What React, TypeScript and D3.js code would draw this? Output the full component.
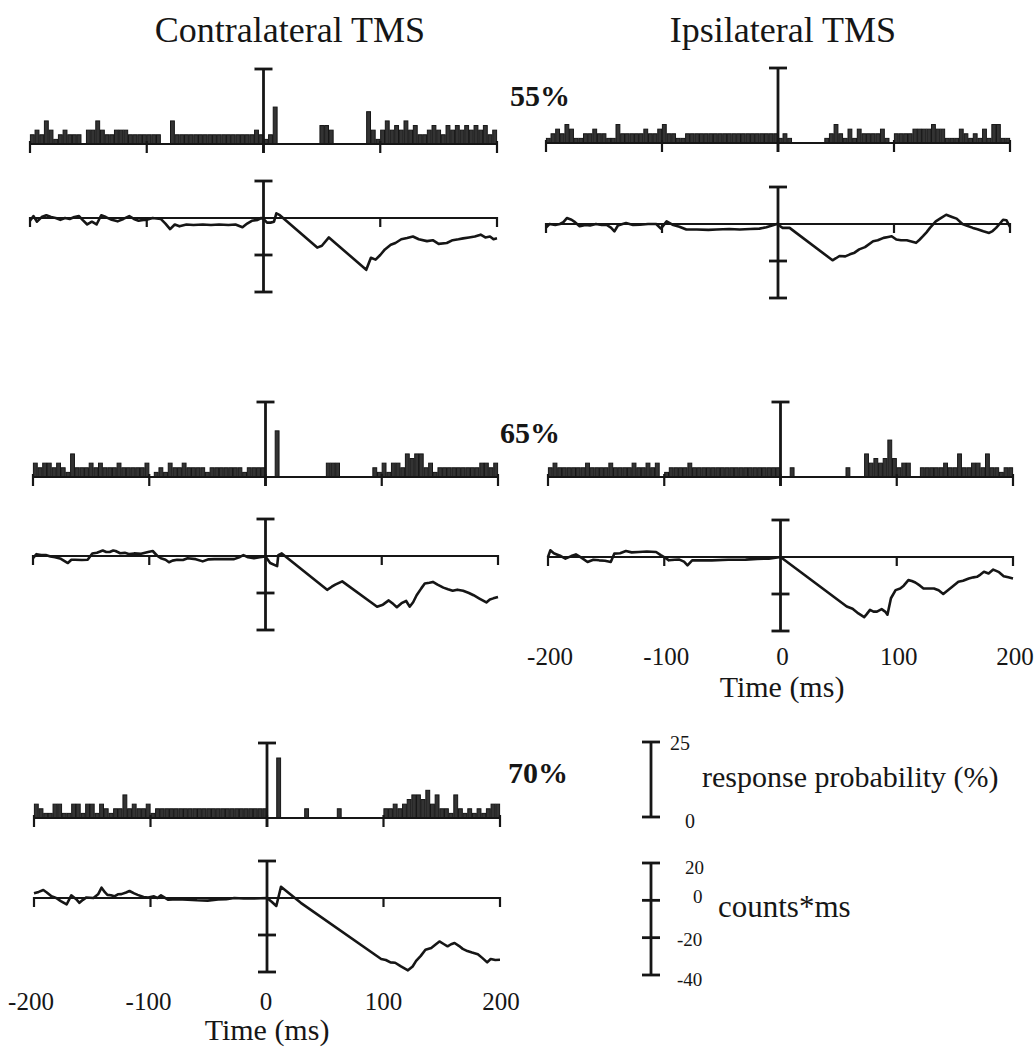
import React from "react";
import * as d3 from "d3";

// ---------- DATA ----------
const timeTicks = [-200, -100, 0, 100, 200];
const binWidthMs = 4;
const trials = 65;
const histMaxPct = 25;
const cusumDomain = [-40, 20];

const contra55Hist = [2,3,2,5,3,1,2,3,2,2,2,0,3,3,5,3,2,2,3,3,3,2,2,2,2,2,2,2,0,0,5,2,2,2,2,2,2,2,2,2,2,2,2,2,2,2,2,2,3,2,1,2,8,0,0,0,0,0,0,0,0,0,4,4,3,0,0,0,0,0,0,0,7,3,1,3,5,3,4,3,5,3,4,2,2,3,4,3,2,4,3,4,3,4,3,4,3,4,2,3];
const contra65Hist = [3,2,3,3,2,3,2,1,5,2,2,2,3,2,3,2,2,2,3,2,2,2,2,2,3,0,1,2,1,3,2,2,3,2,2,2,2,1,2,2,2,2,2,2,2,1,2,2,2,2,0,0,10,0,0,0,0,0,0,0,0,0,0,3,3,3,0,0,0,0,0,0,0,2,1,3,1,3,3,2,5,4,5,5,2,3,1,2,2,2,2,2,2,2,2,2,3,3,2,3];
const contra70Hist = [3,2,1,1,3,3,1,1,3,3,1,3,3,1,3,2,1,2,2,5,2,3,2,2,3,1,2,2,2,2,2,2,2,2,2,2,2,2,2,2,2,2,2,2,2,2,2,2,2,2,0,0,13,0,0,0,0,0,2,0,0,0,0,0,0,2,0,0,0,0,0,0,0,0,0,2,2,3,2,3,4,5,5,4,6,3,5,2,2,1,5,2,1,2,1,2,1,2,3,3];
const ipsi55Hist = [1,2,3,2,4,3,1,1,2,2,3,2,2,1,1,4,2,2,2,2,2,3,2,2,3,4,2,2,1,1,2,2,2,2,2,2,2,2,2,2,2,2,2,2,2,2,2,2,2,2,1,2,1,0,0,0,0,0,0,0,1,2,4,2,1,3,1,3,2,2,2,2,3,1,0,2,2,2,2,3,3,3,3,4,3,3,1,1,1,3,2,1,2,1,3,1,4,4,1,1];
const ipsi65Hist = [2,3,2,2,2,2,2,2,3,2,2,2,2,3,2,2,2,2,3,2,2,3,2,3,0,1,2,2,2,2,3,2,2,2,2,2,2,2,2,2,2,2,2,2,2,2,2,2,2,2,0,0,2,0,0,0,0,0,0,0,0,0,0,0,2,0,0,0,5,3,4,3,4,8,4,2,3,3,0,0,2,2,2,2,2,3,2,2,5,2,2,3,3,2,5,2,2,1,2,2];

const contra55Cusum = [[-200,-1.5],[-197,1],[-194,-2],[-190,0.5],[-186,1.5],[-182,0.5],[-178,0],[-174,-1],[-170,0],[-166,-0.5],[-162,0.5],[-158,1],[-155,-1],[-151,-3.5],[-147,-2],[-143,-3.5],[-139,1.5],[-135,0.5],[-130,-1],[-125,-1.8],[-120,-0.5],[-115,1],[-111,-0.5],[-107,-1.5],[-103,-1],[-100,-1],[-95,0],[-88,-0.5],[-84,-3],[-80,-6],[-76,-3.5],[-72,-4.5],[-66,-3.5],[-60,-3.8],[-52,-3.5],[-45,-3.8],[-38,-3.5],[-30,-3.8],[-24,-3.5],[-18,-5],[-14,-3],[-10,-1.5],[-5,-1],[-2,0],[0,-0.5],[3,-2.5],[6,-2.5],[9,-2],[11,2.5],[14,1.5],[46,-16],[50,-15],[56,-10.5],[88,-28],[92,-21.5],[96,-22.5],[100,-20],[104,-17],[109,-14.5],[113,-13.5],[118,-11.5],[123,-10.8],[128,-10],[133,-11.5],[140,-12.5],[145,-12],[150,-14],[157,-13.5],[162,-12],[167,-11.5],[171,-11],[176,-10.5],[181,-10],[186,-9],[190,-10.5],[194,-10],[197,-11.5],[200,-11]];
const ipsi55Cusum = [[-200,-2],[-197,0],[-192,-0.5],[-188,0],[-185,1],[-182,3.2],[-178,2.3],[-175,1],[-171,-1.2],[-166,-0.5],[-162,-0.8],[-157,0],[-152,-0.5],[-148,-0.4],[-144,-2],[-141,-4],[-138,-0.8],[-134,0],[-131,0.5],[-125,-0.5],[-119,-0.4],[-112,0],[-105,0],[-101,-2.5],[-96,1.4],[-91,-0.4],[-85,-1.5],[-79,-3],[-70,-3],[-60,-3.2],[-53,-3],[-42,-2.7],[-33,-3],[-24,-2.7],[-16,-2.5],[-10,-1.8],[-1,0],[4,-2.1],[10,-2.1],[47,-19.6],[50,-18.5],[53,-17.3],[58,-17.5],[62,-16.4],[66,-15.5],[70,-13.7],[75,-12.5],[82,-9.3],[86,-8.8],[91,-7.5],[95,-7],[98,-6.6],[102,-8.4],[106,-8.8],[111,-8.8],[115,-9.5],[119,-10.2],[122,-8.5],[125,-6.6],[128,-4.5],[131,-2.1],[136,1.4],[140,3],[145,5],[150,3.8],[154,2.9],[159,0],[163,-1],[168,-2.1],[172,-2.8],[177,-3.9],[182,-4.8],[185,-3.8],[188,-2.1],[191,0],[194,2.3],[197,2],[200,-1.5]];
const contra65Cusum = [[-200,-1.2],[-197,1],[-193,0.5],[-189,0.5],[-185,-0.3],[-181,-0.7],[-176,-1.5],[-170,-3.8],[-167,-2],[-164,-2],[-158,-2.2],[-153,-2],[-149,1.4],[-145,1.8],[-140,3],[-137,2.2],[-134,2.2],[-131,3],[-129,2.7],[-125,1.5],[-121,1.7],[-117,1],[-113,1.4],[-107,1.2],[-101,2.2],[-97,2.7],[-93,0],[-90,-1.2],[-86,-2],[-83,-3.4],[-80,-2.5],[-76,-2],[-71,-2.2],[-67,-1.2],[-60,-1.7],[-54,-2.9],[-49,-1.8],[-44,-1.7],[-36,-1.6],[-27,-1.7],[-22,-0.5],[-19,0.5],[-15,-0.7],[-10,-1.2],[-5,-0.6],[0,-0.3],[4,-3.8],[10,-5.5],[11,0.5],[14,1.4],[53,-18.3],[57,-16.6],[60,-15.5],[66,-13.7],[96,-27.4],[101,-26.3],[106,-24],[110,-26],[113,-27.7],[117,-25.5],[121,-24.3],[124,-27.4],[127,-25],[130,-21.2],[134,-17.5],[137,-14.9],[141,-14.5],[144,-14],[148,-15.5],[153,-17.1],[157,-18],[161,-18.8],[165,-18.2],[170,-18.8],[175,-20],[179,-21.2],[184,-23],[190,-25.1],[193,-23.5],[196,-22.9],[200,-22.2]];
const ipsi65Cusum = [[-200,0],[-198,3.6],[-195,2],[-193,1.5],[-189,0.5],[-185,-0.9],[-180,0.5],[-176,1.4],[-171,-0.5],[-166,-2.7],[-161,-1.5],[-156,-1.8],[-151,-2],[-146,-2.7],[-143,1.8],[-138,2],[-133,3.2],[-128,2.5],[-122,2.7],[-115,3],[-107,2.7],[-103,1],[-99,-0.5],[-96,-1.8],[-91,-1.5],[-87,-1.4],[-83,-2.5],[-80,-4.5],[-76,-1.8],[-68,-1.8],[-59,-1.8],[-45,-1.5],[-30,-1.4],[-20,-1],[-10,-0.9],[0,0],[57,-26.8],[62,-28],[67,-30.5],[72,-32.5],[74,-31],[77,-28.6],[80,-29.5],[83,-29.5],[87,-28.2],[90,-29.5],[92,-31.2],[95,-22.3],[99,-17.9],[103,-17],[106,-15.5],[110,-12.5],[113,-13],[116,-13.8],[120,-15.5],[123,-17],[128,-17],[132,-17],[136,-18],[140,-20],[144,-18],[148,-16],[153,-13.4],[157,-12.8],[162,-11.6],[166,-11],[169,-10.7],[172,-9.5],[175,-8],[179,-8.9],[183,-6.8],[188,-8.2],[192,-10.4],[196,-11],[200,-11.6]];
const contra70Cusum = [[-200,2.6],[-196,3.3],[-192,4.3],[-189,3],[-185,0.9],[-181,0],[-177,-1.7],[-172,-3.5],[-168,1.4],[-164,-0.5],[-161,-2.6],[-158,-1],[-155,0.3],[-149,0],[-145,2],[-142,5.6],[-139,3],[-137,1.7],[-134,1.5],[-131,0.9],[-128,2],[-125,2.1],[-121,3],[-118,3.8],[-114,2.5],[-111,1.7],[-106,0.5],[-102,0.3],[-97,0.9],[-94,0],[-91,1.4],[-85,-0.9],[-77,-0.7],[-68,-0.9],[-60,-1.2],[-51,-1.4],[-42,-0.8],[-35,-0.6],[-28,0],[-20,-0.3],[-11,-0.3],[0,0],[4,-2],[8,-4.3],[12,6.1],[29,-2.6],[98,-33],[102,-33.5],[106,-34.8],[110,-35],[115,-37],[121,-39.1],[125,-37],[128,-34],[132,-31.3],[136,-28],[141,-27],[145,-25],[148,-23.5],[152,-25],[155,-26.1],[158,-25],[161,-24.3],[165,-26],[168,-27.5],[172,-28.7],[176,-29.5],[181,-30.4],[185,-32.5],[189,-34.8],[192,-33],[196,-33.5],[200,-33.4]];

const columnTitles = ["Contralateral TMS", "Ipsilateral TMS"];
const intensityLabels = ["55%", "65%", "70%"];
const timeAxisTitle = "Time (ms)";
const probScaleLabels = ["25", "0"];
const cusumScaleLabels = ["20", "0", "-20", "-40"];
const probScaleTitle = "response probability (%)";
const cusumScaleTitle = "counts*ms";

// ---------- LAYOUT ----------
const panels = [
  { hist: contra55Hist, cusum: contra55Cusum, x0: 30, x1: 497, hb: 144, cz: 218 },
  { hist: ipsi55Hist, cusum: ipsi55Cusum, x0: 546, x1: 1010, hb: 143, cz: 224 },
  { hist: contra65Hist, cusum: contra65Cusum, x0: 33, x1: 498, hb: 477, cz: 556 },
  { hist: ipsi65Hist, cusum: ipsi65Cusum, x0: 548, x1: 1013, hb: 477, cz: 557 },
  { hist: contra70Hist, cusum: contra70Cusum, x0: 34, x1: 500, hb: 818, cz: 898 },
];

const FONT = "'Liberation Serif', 'Times New Roman', serif";
const INK = "#161616";
const HIST_H = 75;
const PX_PER_UNIT = 37 / 20;
const CAP = 9;

function Panel({ p }: { p: any }) {
  const x = d3.scaleLinear().domain([-200, 200]).range([p.x0, p.x1]);
  const yH = d3.scaleLinear().domain([0, histMaxPct]).range([p.hb, p.hb - HIST_H]);
  const yC = d3
    .scaleLinear()
    .domain(cusumDomain)
    .range([p.cz - cusumDomain[0] * PX_PER_UNIT, p.cz - cusumDomain[1] * PX_PER_UNIT]);
  const line = d3
    .line<number[]>()
    .x((d) => x(d[0]))
    .y((d) => yC(d[1]));
  const x0 = x(0);
  return (
    <g>
      {/* histogram bars */}
      {p.hist.map((c: number, i: number) => {
        if (!c) return null;
        const t0 = -200 + i * binWidthMs;
        const xa = x(t0);
        const xb = x(t0 + binWidthMs);
        const yy = yH((c * 100) / trials);
        return (
          <rect
            key={i}
            x={xa + 0.4}
            y={yy}
            width={Math.max(0.8, xb - xa - 0.8)}
            height={p.hb - yy}
            fill="#333"
            stroke={INK}
            strokeWidth={1}
          />
        );
      })}
      {/* histogram baseline & ticks */}
      <line x1={x(-200)} x2={x(200)} y1={p.hb} y2={p.hb} stroke={INK} strokeWidth={2.2} />
      {timeTicks.map((t) => (
        <line key={t} x1={x(t)} x2={x(t)} y1={p.hb - 3} y2={p.hb + 9} stroke={INK} strokeWidth={2.2} />
      ))}
      {/* histogram scale bar */}
      <line x1={x0} x2={x0} y1={yH(histMaxPct)} y2={p.hb + 9} stroke={INK} strokeWidth={2.8} />
      <line x1={x0 - CAP} x2={x0 + CAP} y1={yH(histMaxPct)} y2={yH(histMaxPct)} stroke={INK} strokeWidth={2.8} />

      {/* cusum zero line & ticks */}
      <line x1={x(-200)} x2={x(200)} y1={yC(0)} y2={yC(0)} stroke={INK} strokeWidth={2} />
      {timeTicks
        .filter((t) => t !== 0)
        .map((t) => (
          <line key={t} x1={x(t)} x2={x(t)} y1={yC(0) - 1} y2={yC(0) + 9} stroke={INK} strokeWidth={2.2} />
        ))}
      {/* cusum scale bar */}
      <line x1={x0} x2={x0} y1={yC(20)} y2={yC(-40)} stroke={INK} strokeWidth={2.8} />
      {[20, -20, -40].map((v) => (
        <line key={v} x1={x0 - CAP} x2={x0 + CAP} y1={yC(v)} y2={yC(v)} stroke={INK} strokeWidth={2.8} />
      ))}
      {/* cusum trace */}
      <path d={line(p.cusum) || ""} fill="none" stroke={INK} strokeWidth={2.6} strokeLinejoin="round" />
    </g>
  );
}

export default function App() {
  const contraX = d3.scaleLinear().domain([-200, 200]).range([31, 501]);
  const ipsiX = d3.scaleLinear().domain([-200, 200]).range([550, 1015]);
  const probBar = d3.scaleLinear().domain([0, 25]).range([817, 742]);
  const cusBar = d3.scaleLinear().domain([-40, 20]).range([975, 863]);
  const lx = 651;
  return (
    <svg
      width={1036}
      height={1051}
      viewBox="0 0 1036 1051"
      style={{ position: "absolute", left: 0, top: 0, background: "#fff" }}
      fontFamily={FONT}
    >
      <rect width={1036} height={1051} fill="#fff" />
      <text x={290} y={42} fontSize={36} textAnchor="middle" fill={INK}>{columnTitles[0]}</text>
      <text x={783} y={42} fontSize={36} textAnchor="middle" fill={INK}>{columnTitles[1]}</text>

      <text x={510} y={106} fontSize={30} fontWeight="bold" fill={INK}>{intensityLabels[0]}</text>
      <text x={500} y={443} fontSize={30} fontWeight="bold" fill={INK}>{intensityLabels[1]}</text>
      <text x={508} y={783} fontSize={30} fontWeight="bold" fill={INK}>{intensityLabels[2]}</text>

      {panels.map((p, i) => (
        <Panel key={i} p={p} />
      ))}

      {/* ipsilateral time axis labels */}
      {timeTicks.map((t) => (
        <text key={t} x={ipsiX(t)} y={665} fontSize={25} textAnchor="middle" fill={INK}>{t}</text>
      ))}
      <text x={782} y={697} fontSize={30} textAnchor="middle" fill={INK}>{timeAxisTitle}</text>

      {/* contralateral time axis labels */}
      {timeTicks.map((t) => (
        <text key={t} x={contraX(t)} y={1010} fontSize={25} textAnchor="middle" fill={INK}>{t}</text>
      ))}
      <text x={267} y={1040} fontSize={30} textAnchor="middle" fill={INK}>{timeAxisTitle}</text>

      {/* legend: response probability */}
      <line x1={lx} x2={lx} y1={probBar(25)} y2={probBar(0)} stroke={INK} strokeWidth={2.8} />
      {[25, 0].map((v) => (
        <line key={v} x1={lx - 9} x2={lx + 9} y1={probBar(v)} y2={probBar(v)} stroke={INK} strokeWidth={2.8} />
      ))}
      <text x={670} y={750} fontSize={20} fill={INK}>{probScaleLabels[0]}</text>
      <text x={685} y={828} fontSize={20} fill={INK}>{probScaleLabels[1]}</text>
      <text x={702} y={787} fontSize={30} fill={INK}>{probScaleTitle}</text>

      {/* legend: cusum */}
      <line x1={lx} x2={lx} y1={cusBar(20)} y2={cusBar(-40)} stroke={INK} strokeWidth={2.8} />
      {[20, 0, -20, -40].map((v) => (
        <line key={v} x1={lx - 9} x2={lx + 9} y1={cusBar(v)} y2={cusBar(v)} stroke={INK} strokeWidth={2.8} />
      ))}
      <text x={685} y={874} fontSize={19} fill={INK}>{cusumScaleLabels[0]}</text>
      <text x={693} y={903} fontSize={19} fill={INK}>{cusumScaleLabels[1]}</text>
      <text x={677} y={946} fontSize={19} fill={INK}>{cusumScaleLabels[2]}</text>
      <text x={677} y={986} fontSize={19} fill={INK}>{cusumScaleLabels[3]}</text>
      <text x={718} y={917} fontSize={31} fill={INK}>{cusumScaleTitle}</text>
    </svg>
  );
}
